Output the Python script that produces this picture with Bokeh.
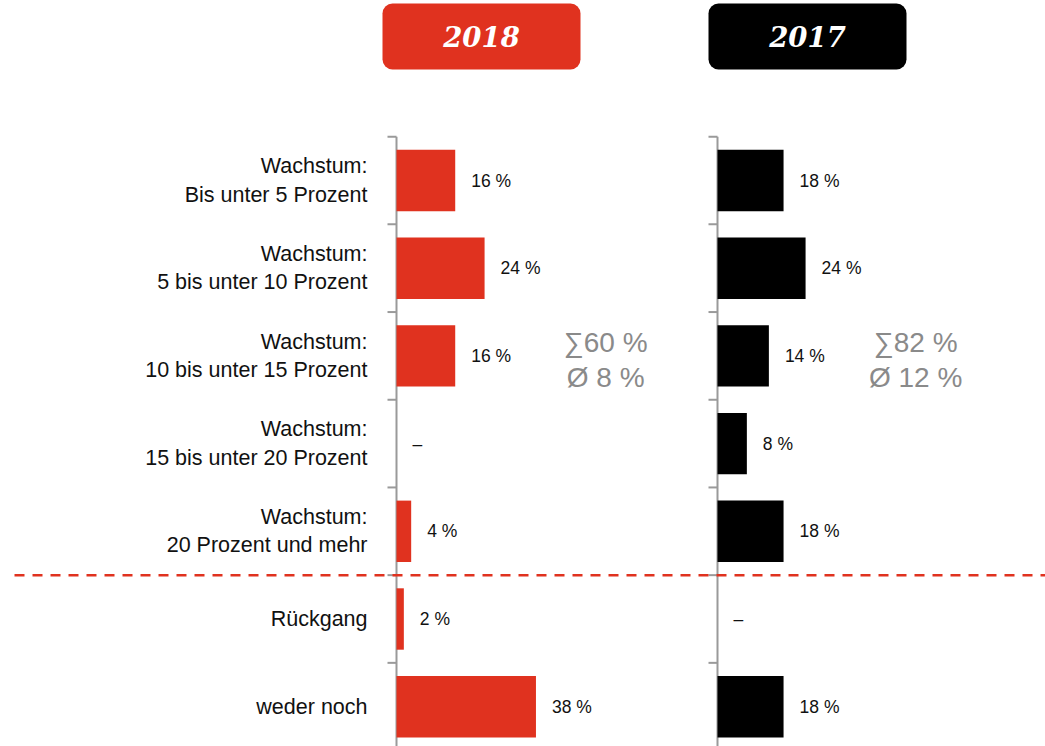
from bokeh.plotting import figure
from bokeh.models import Range1d, ColumnDataSource
from bokeh.core.properties import value
from bokeh.embed import file_html
from bokeh.resources import INLINE

# ---------------- data ----------------
categories = [
    "Wachstum:\nBis unter 5 Prozent",
    "Wachstum:\n5 bis unter 10 Prozent",
    "Wachstum:\n10 bis unter 15 Prozent",
    "Wachstum:\n15 bis unter 20 Prozent",
    "Wachstum:\n20 Prozent und mehr",
    "Rückgang",
    "weder noch",
]
years = ["2018", "2017"]
values_2018 = [16, 24, 16, 0, 4, 2, 38]
values_2017 = [18, 24, 14, 8, 18, 0, 18]
growth_rows = 5          # first five categories are growth classes
avg_2018 = 8
avg_2017 = 12

# ---------------- layout / style ----------------
W, H = 1045, 746
PX = 3.67                 # pixels per percent
AX1_PX = 396              # canvas x of first axis
AX2_PX = 717              # canvas x of second axis
ROW0_PX = 180             # canvas y of first row centre
PITCH = 87.7              # pixels per row
RED = "#E0321F"
BLACK = "#000000"
GREY_AXIS = "#9a9a9a"
GREY_TXT = "#8a8a8a"
FONT = "Liberation Sans"

def dx(px):
    return px / PX

def dy(px):
    return px / PITCH

OFF2 = dx(AX2_PX - AX1_PX)   # x offset of 2017 panel in percent units

x_start = -dx(AX1_PX)
x_end = dx(W - AX1_PX)
y_top = -dy(ROW0_PX)
y_bottom = dy(H - ROW0_PX)

p = figure(width=W, height=H, output_backend="svg", toolbar_location=None,
           x_range=Range1d(x_start, x_end), y_range=Range1d(y_bottom, y_top),
           min_border=0, outline_line_color=None)
p.axis.visible = False
p.grid.visible = False
p.background_fill_color = "white"

n = len(categories)
rows = list(range(n))

panels = [
    (years[0], values_2018, 0.0, RED, avg_2018, 57.0, -14),
    (years[1], values_2017, OFF2, BLACK, avg_2017, 54.0, -9),
]

for year, vals, off, col, avg, sum_x, box_l in panels:
    # axis line and boundary ticks
    p.segment(x0=[off], y0=[-0.5], x1=[off], y1=[y_bottom + 1],
              line_color=GREY_AXIS, line_width=2)
    bnds = [r - 0.5 for r in rows] + [n - 0.5]
    p.segment(x0=[off - dx(9)] * len(bnds), y0=bnds, x1=[off] * len(bnds), y1=bnds,
              line_color=GREY_AXIS, line_width=2)

    src = ColumnDataSource(dict(
        y=rows,
        left=[off] * n,
        right=[off + v for v in vals],
        lab=[f"{v} %" if v else "–" for v in vals],
    ))
    p.hbar(y="y", left="left", right="right", height=0.70, source=src,
           fill_color=col, line_color=None)
    p.text(x="right", y="y", text="lab", source=src, x_offset=16,
           text_align="left", text_baseline="middle",
           text_font=value(FONT), text_font_size="17.5px", text_color="#111111")

    # header box
    hx0 = off + dx(box_l)
    hx1 = hx0 + dx(198)
    hy_top = y_top + dy(3)
    hy_bot = y_top + dy(69)
    p.quad(left=[hx0], right=[hx1], top=[hy_top], bottom=[hy_bot],
           fill_color=col, line_color=None, border_radius=10)
    p.text(x=[(hx0 + hx1) / 2], y=[(hy_top + hy_bot) / 2], text=[year],
           text_align="center", text_baseline="middle",
           text_font=value("DejaVu Serif"), text_font_style="bold italic",
           text_font_size="27.5px", text_color="white")

    # sum / average annotation
    total = sum(vals[:growth_rows])
    p.text(x=[off + sum_x], y=[2 + dy(4)], text=[f"∑{total} %\nØ {avg} %"],
           text_align="center", text_baseline="middle",
           text_font=value(FONT), text_font_size="28px", text_color=GREY_TXT,
           text_line_height=1.15)

# category labels
p.text(x=[dx(-29)] * n, y=rows, text=categories,
       text_align="right", text_baseline="middle",
       text_font=value(FONT), text_font_size="21.5px", text_color="#111111",
       text_line_height=1.18)

# dashed separator between growth classes and the rest
p.segment(x0=[x_start + dx(14)], y0=[growth_rows - 0.5], x1=[x_end], y1=[growth_rows - 0.5],
          line_color=RED, line_width=2.5, line_dash="10 8")

open("out.html", "w").write(file_html(p, INLINE))
